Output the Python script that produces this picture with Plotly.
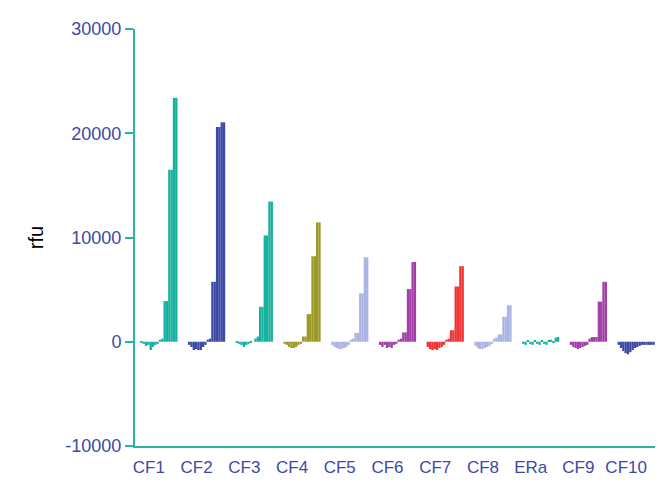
import plotly.graph_objects as go

categories = ["CF1", "CF2", "CF3", "CF4", "CF5", "CF6", "CF7", "CF8", "ERa", "CF9", "CF10"]

# 16 readings per category (8 concentrations in duplicate)
cf1 = [-100, -200, -400, -300, -800, -500, -300, -200, 200, 300, 3900, 3900, 16500, 16500, 23400, 23400]
cf2 = [-300, -500, -800, -700, -800, -800, -500, -300, 200, 300, 5750, 5750, 20600, 20600, 21050, 21050]
cf3 = [-100, -200, -300, -500, -300, -200, -100, 0, 300, 500, 3350, 3350, 10200, 10200, 13450, 13450]
cf4 = [-200, -300, -500, -600, -600, -500, -300, -200, 500, 500, 2650, 2650, 8200, 8200, 11450, 11450]
cf5 = [-300, -500, -600, -700, -700, -600, -500, -300, 200, 300, 850, 850, 4650, 4650, 8100, 8100]
cf6 = [-300, -500, -300, -600, -500, -600, -300, -200, 200, 300, 900, 900, 5050, 5050, 7650, 7650]
cf7 = [-500, -700, -800, -700, -800, -600, -500, -300, 200, 300, 1100, 1100, 5300, 5300, 7250, 7250]
cf8 = [-400, -600, -700, -700, -600, -500, -400, -200, 300, 400, 700, 700, 2400, 2400, 3500, 3500]
era = [-200, -300, 100, -200, -300, 100, -200, -300, 150, -200, -300, 100, 200, -100, 400, 450]
cf9 = [-300, -500, -600, -700, -600, -500, -400, -300, 300, 450, 450, 450, 3850, 3850, 5750, 5750]
cf10 = [-300, -600, -900, -1100, -1200, -1000, -800, -600, -500, -400, -300, -300, -300, -300, -300, -300]

series = [cf1, cf2, cf3, cf4, cf5, cf6, cf7, cf8, era, cf9, cf10]

teal = "#15b09e"
navy = "#3c4aa6"
olive = "#9c9a26"
lavender = "#aab4e4"
purple = "#a23ea6"
red = "#f03434"
cat_colors = [teal, navy, teal, olive, lavender, purple, red, lavender, teal, purple, navy]

y_ticks = [-10000, 0, 10000, 20000, 30000]

fig = go.Figure()
n_readings = len(cf1)
for i in range(n_readings):
    fig.add_trace(go.Bar(
        x=categories,
        y=[s[i] for s in series],
        marker=dict(color=cat_colors, line=dict(width=0)),
        showlegend=False,
    ))

axis_col = "#2ab3a3"
label_col = "#3c4aa6"

fig.update_layout(
    width=663, height=491,
    margin=dict(l=127, r=11, t=19, b=53),
    paper_bgcolor="white", plot_bgcolor="white",
    barmode="group", bargap=0.22, bargroupgap=0,
    font=dict(family="Liberation Sans, Arial", size=17, color=label_col),
)
fig.update_xaxes(
    type="category", range=[-0.5, len(categories) - 0.5],
    showline=True, linecolor=axis_col, linewidth=2,
    showgrid=False, ticks="", ticklabelstandoff=5, ticklabelshift=-10,
    tickfont=dict(size=17, color=label_col),
)
fig.update_yaxes(
    range=[-10000, 30000], tickvals=y_ticks, ticktext=[str(v) for v in y_ticks],
    showline=True, linecolor=axis_col, linewidth=2,
    showgrid=False, zeroline=False,
    ticks="outside", ticklen=8, tickcolor=axis_col, tickwidth=2,
    tickfont=dict(size=18, color=label_col),
    title=dict(text="rfu", font=dict(size=20, color="black"), standoff=16),
)

fig.write_html("out.html")
